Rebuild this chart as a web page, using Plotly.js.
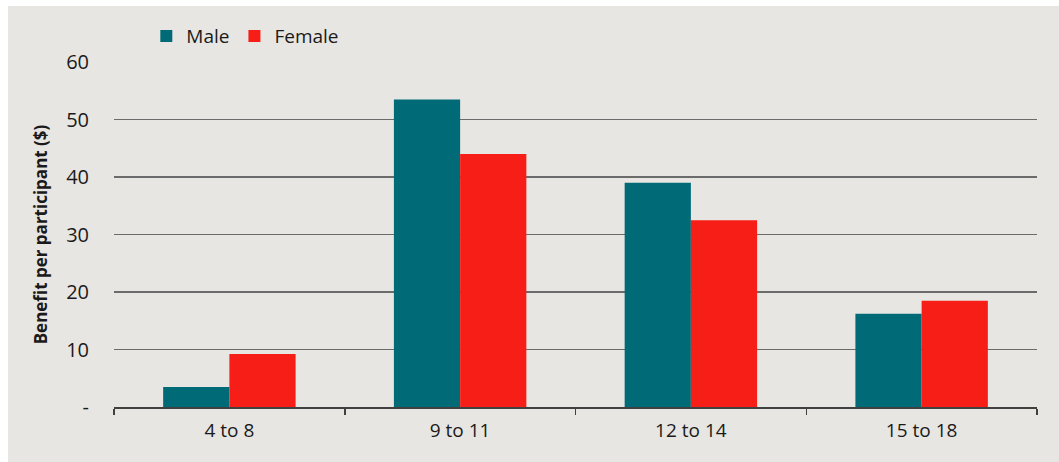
<!DOCTYPE html>
<html>
<head>
<meta charset="utf-8">
<script src="https://cdn.plot.ly/plotly-3.0.1.min.js"></script>
<style>
  html, body { margin: 0; padding: 0; background: #ffffff; }
  #panel { position: absolute; left: 8px; top: 6px; width: 1051px; height: 456px; background: #e8e6e2; }
  #chart { width: 1051px; height: 456px; }
</style>
</head>
<body>
<div id="panel"><div id="chart"></div></div>
<script>
// Age groups and average benefit per participant, by sex
const ageGroups = ["4 to 8", "9 to 11", "12 to 14", "15 to 18"];
const maleBenefit = [3.5, 53.5, 39.0, 16.2];
const femaleBenefit = [9.2, 44.0, 32.5, 18.5];
const yTickValues = [0, 10, 20, 30, 40, 50, 60];
const yTickLabels = ["-", "10", "20", "30", "40", "50", "60"];

const fontFamily = "Open Sans, Liberation Sans, sans-serif";

const traces = [
  {
    type: "bar",
    name: "Male",
    x: ageGroups,
    y: maleBenefit,
    marker: { color: "#006b77" },
    hoverinfo: "skip"
  },
  {
    type: "bar",
    name: "Female",
    x: ageGroups,
    y: femaleBenefit,
    marker: { color: "#f61e16" },
    hoverinfo: "skip"
  }
];

const layout = {
  width: 1051,
  height: 456,
  paper_bgcolor: "rgba(0,0,0,0)",
  plot_bgcolor: "rgba(0,0,0,0)",
  margin: { l: 106, r: 22, t: 55, b: 55 },
  font: { family: fontFamily, size: 20, color: "#1a1a1a" },
  barmode: "group",
  bargap: 0.426,
  bargroupgap: 0,
  showlegend: true,
  legend: {
    orientation: "h",
    x: 0.035,
    xanchor: "left",
    y: 1.072,
    yanchor: "middle",
    itemwidth: 30,
    tracegroupgap: 0,
    font: { family: fontFamily, size: 19, color: "#1a1a1a" },
    bgcolor: "rgba(0,0,0,0)",
    itemclick: false
  },
  xaxis: {
    type: "category",
    tickson: "boundaries",
    ticks: "outside",
    ticklen: 6,
    tickwidth: 1.5,
    tickcolor: "#404040",
    ticklabelstandoff: 6,
    showline: true,
    linecolor: "#404040",
    linewidth: 1.5,
    showgrid: false,
    tickfont: { family: fontFamily, size: 19, color: "#1a1a1a" },
    fixedrange: true
  },
  yaxis: {
    range: [0, 60],
    tickvals: yTickValues,
    ticktext: yTickLabels,
    ticks: "",
    ticklabelstandoff: 24,
    showgrid: true,
    gridcolor: "#6b6b6b",
    gridwidth: 1.3,
    zeroline: false,
    showline: false,
    tickfont: { family: fontFamily, size: 20, color: "#1a1a1a" },
    title: {
      text: "<b>Benefit per participant ($)</b>",
      font: { family: fontFamily, size: 17, color: "#1a1a1a" },
      standoff: 14
    },
    fixedrange: true
  }
};

Plotly.newPlot("chart", traces, layout, { displayModeBar: false, staticPlot: true });
</script>
</body>
</html>
